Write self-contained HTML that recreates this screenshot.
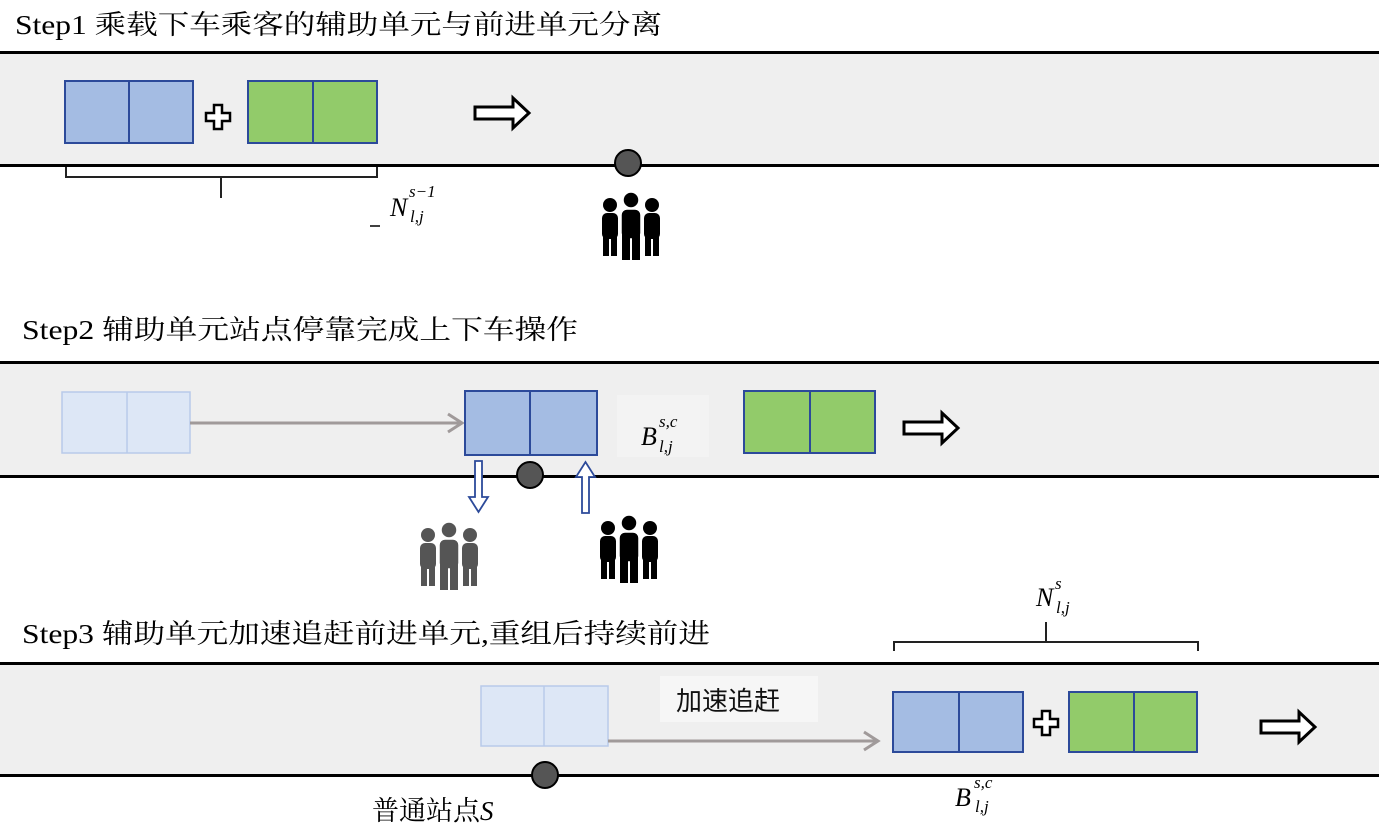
<!DOCTYPE html>
<html><head><meta charset="utf-8"><style>
html,body{margin:0;padding:0;background:#fff;}
svg{display:block;}
.t{font-family:"Liberation Serif","Noto Serif CJK SC",serif;font-size:27px;fill:#000;}
.m{font-family:"Liberation Serif",serif;font-style:italic;fill:#000;}
</style></head><body>
<svg width="1379" height="832" viewBox="0 0 1379 832" xmlns="http://www.w3.org/2000/svg">
<defs>
<g id="ppl">
  <circle cx="10" cy="13" r="7"/><circle cx="52" cy="13" r="7"/>
  <rect x="2" y="21" width="16" height="26" rx="5"/><rect x="44" y="21" width="16" height="26" rx="5"/>
  <rect x="3" y="40" width="6" height="24"/><rect x="11" y="40" width="6" height="24"/>
  <rect x="45" y="40" width="6" height="24"/><rect x="53" y="40" width="6" height="24"/>
  <circle cx="31" cy="8" r="8" stroke="#fff" stroke-width="1.5"/>
  <rect x="21" y="17" width="20" height="30" rx="6" stroke="#fff" stroke-width="1.5"/>
  <rect x="22" y="40" width="8" height="28"/><rect x="32" y="40" width="8" height="28"/>
</g>
<g id="fat">
  <polygon points="0,-6 38,-6 38,-15 54,0 38,15 38,6 0,6" fill="#fff" stroke="#000" stroke-width="3"/>
</g>
<g id="plus">
  <polygon points="-4,-12 4,-12 4,-4 12,-4 12,4 4,4 4,12 -4,12 -4,4 -12,4 -12,-4 -4,-4" fill="#fff" stroke="#000" stroke-width="2.5"/>
</g>
</defs>

<!-- Step 1 -->
<text class="t" x="15" y="34" textLength="647" lengthAdjust="spacingAndGlyphs">Step1 乘载下车乘客的辅助单元与前进单元分离</text>
<rect x="0" y="54" width="1379" height="111" fill="#efefef"/>
<rect x="0" y="51" width="1379" height="3" fill="#000"/>
<rect x="0" y="164" width="1379" height="3" fill="#000"/>
<rect x="65" y="81" width="128" height="62" fill="#a4bce3" stroke="#2c4a9a" stroke-width="2"/>
<line x1="129" y1="81" x2="129" y2="143" stroke="#2c4a9a" stroke-width="2"/>
<use href="#plus" x="218" y="117"/>
<rect x="248" y="81" width="129" height="62" fill="#92cb6a" stroke="#2c4a9a" stroke-width="2"/>
<line x1="313" y1="81" x2="313" y2="143" stroke="#2c4a9a" stroke-width="2"/>
<use href="#fat" x="475" y="113"/>
<path d="M66,167 V177 H377 V167 M221,177 V198" fill="none" stroke="#222" stroke-width="2"/>
<text class="m" x="390" y="216" font-size="26">N</text>
<text class="m" x="409" y="197" font-size="17">s−1</text>
<text class="m" x="410" y="222" font-size="17">l,j</text>
<line x1="370" y1="226" x2="380" y2="226" stroke="#000" stroke-width="1.5"/>
<circle cx="628" cy="163" r="13" fill="#555" stroke="#000" stroke-width="2"/>
<use href="#ppl" x="600" y="192" fill="#000"/>

<!-- Step 2 -->
<text class="t" x="22" y="339" textLength="556" lengthAdjust="spacingAndGlyphs">Step2 辅助单元站点停靠完成上下车操作</text>
<rect x="0" y="364" width="1379" height="112" fill="#efefef"/>
<rect x="0" y="361" width="1379" height="3" fill="#000"/>
<rect x="0" y="475" width="1379" height="3" fill="#000"/>
<rect x="62" y="392" width="128" height="61" fill="#dde7f6" stroke="#b8caea" stroke-width="1.5"/>
<line x1="127" y1="392" x2="127" y2="453" stroke="#b8caea" stroke-width="1.5"/>
<line x1="190" y1="423" x2="460" y2="423" stroke="#a09a9a" stroke-width="3"/>
<path d="M448,414 L462,423 L448,432" fill="none" stroke="#a09a9a" stroke-width="3"/>
<rect x="617" y="395" width="92" height="62" fill="#f3f3f3"/>
<rect x="465" y="391" width="132" height="64" fill="#a4bce3" stroke="#2c4a9a" stroke-width="2"/>
<line x1="530" y1="391" x2="530" y2="455" stroke="#2c4a9a" stroke-width="2"/>
<text class="m" x="641" y="445" font-size="26">B</text>
<text class="m" x="659" y="427" font-size="17">s,c</text>
<text class="m" x="659" y="452" font-size="17">l,j</text>
<rect x="744" y="391" width="131" height="62" fill="#92cb6a" stroke="#2c4a9a" stroke-width="2"/>
<line x1="810" y1="391" x2="810" y2="453" stroke="#2c4a9a" stroke-width="2"/>
<use href="#fat" x="904" y="428"/>
<circle cx="530" cy="475" r="13" fill="#555" stroke="#000" stroke-width="2"/>
<polygon points="475,461 482,461 482,497 488,497 478.5,512 469,497 475,497" fill="#fff" stroke="#2c4a9a" stroke-width="1.8"/>
<polygon points="582,513 589,513 589,477 595,477 585.5,462 576,477 582,477" fill="#fff" stroke="#2c4a9a" stroke-width="1.8"/>
<use href="#ppl" x="418" y="522" fill="#555"/>
<use href="#ppl" x="598" y="515" fill="#000"/>

<!-- Step 3 -->
<text class="t" x="22" y="643" textLength="688" lengthAdjust="spacingAndGlyphs">Step3 辅助单元加速追赶前进单元,重组后持续前进</text>
<path d="M894,651 V642 H1198 V651 M1046,642 V622" fill="none" stroke="#222" stroke-width="2"/>
<text class="m" x="1036" y="606" font-size="26">N</text>
<text class="m" x="1055" y="589" font-size="17">s</text>
<text class="m" x="1056" y="613" font-size="17">l,j</text>
<rect x="0" y="665" width="1379" height="110" fill="#efefef"/>
<rect x="0" y="662" width="1379" height="3" fill="#000"/>
<rect x="0" y="774" width="1379" height="3" fill="#000"/>
<rect x="481" y="686" width="127" height="60" fill="#dde7f6" stroke="#b8caea" stroke-width="1.5"/>
<line x1="544" y1="686" x2="544" y2="746" stroke="#b8caea" stroke-width="1.5"/>
<rect x="660" y="676" width="158" height="46" fill="#f6f6f6"/>
<text x="676" y="710" font-family="'Noto Sans CJK SC',sans-serif" font-size="26" fill="#111">加速追赶</text>
<line x1="608" y1="741" x2="876" y2="741" stroke="#a09a9a" stroke-width="3"/>
<path d="M864,732 L878,741 L864,750" fill="none" stroke="#a09a9a" stroke-width="3"/>
<rect x="893" y="692" width="130" height="60" fill="#a4bce3" stroke="#2c4a9a" stroke-width="2"/>
<line x1="959" y1="692" x2="959" y2="752" stroke="#2c4a9a" stroke-width="2"/>
<use href="#plus" x="1046" y="723"/>
<rect x="1069" y="692" width="128" height="60" fill="#92cb6a" stroke="#2c4a9a" stroke-width="2"/>
<line x1="1134" y1="692" x2="1134" y2="752" stroke="#2c4a9a" stroke-width="2"/>
<use href="#fat" x="1261" y="727"/>
<circle cx="545" cy="775" r="13" fill="#555" stroke="#000" stroke-width="2"/>
<text x="372" y="820" font-family="'Liberation Serif','Noto Serif CJK SC',serif" font-size="27" fill="#000">普通站点<tspan font-style="italic">S</tspan></text>
<text class="m" x="955" y="806" font-size="26">B</text>
<text class="m" x="974" y="788" font-size="17">s,c</text>
<text class="m" x="975" y="812" font-size="17">l,j</text>
</svg>
</body></html>
